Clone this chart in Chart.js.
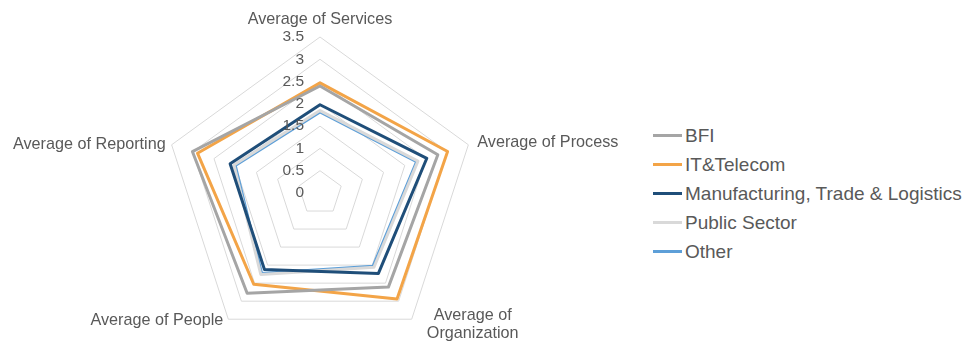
<!DOCTYPE html>
<html>
<head>
<meta charset="utf-8">
<script src="https://cdn.jsdelivr.net/npm/chart.js@4.4.1/dist/chart.umd.min.js"></script>
<style>
  html, body { margin: 0; padding: 0; background: #fff; }
  #wrap { position: relative; width: 966px; height: 342px; overflow: hidden; font-family: "Liberation Sans", Arial, sans-serif; }
  #radar { position: absolute; left: 0; top: 0; }
  #legend { position: absolute; left: 653px; top: 121px; color: #595959; font-size: 19px; }
  #legend .item { display: flex; align-items: center; height: 29px; white-space: nowrap; }
  #legend .swatch { width: 29px; height: 3px; margin-right: 3px; }
</style>
</head>
<body>
<div id="wrap">
  <canvas id="radar" width="640" height="400"></canvas>
  <div id="legend"></div>
</div>
<script>
const categories = ['Average of Services', 'Average of Process', 'Average of Organization', 'Average of People', 'Average of Reporting'];
const tickValues = [0, 0.5, 1, 1.5, 2, 2.5, 3, 3.5];

const seriesNames = ['BFI', 'IT&Telecom', 'Manufacturing, Trade & Logistics', 'Public Sector', 'Other'];
const bfi = [2.40, 2.78, 2.61, 2.78, 3.01];
const itTelecom = [2.47, 3.01, 2.94, 2.53, 2.89];
const manufacturing = [1.98, 2.52, 2.23, 2.12, 2.12];
const publicSector = [1.85, 2.31, 2.06, 2.26, 2.03];
const other = [1.82, 2.28, 2.03, 2.23, 2.00];
const seriesColors = ['#a5a5a5', '#f3a447', '#1f4e79', '#d9d9d9', '#5d9fd8'];

const textColor = '#595959';
const fontFamily = '"Liberation Sans", Arial, sans-serif';

// labels drawn next to the scale's own points, Excel style
const labelPlugin = {
  id: 'excelLabels',
  afterDraw(chart) {
    const scale = chart.scales.r;
    const ctx = chart.ctx;
    ctx.save();
    ctx.fillStyle = textColor;
    ctx.font = '15.5px ' + fontFamily;

    // tick labels left of the vertical axis
    ctx.textAlign = 'right';
    ctx.textBaseline = 'middle';
    tickValues.forEach(v => {
      const y = scale.yCenter - scale.getDistanceFromCenterForValue(v);
      ctx.fillText(String(v), scale.xCenter - 16, y);
    });

    // category labels
    ctx.font = '16.2px ' + fontFamily;
    const r = scale.drawingArea;
    const p0 = scale.getPointPosition(0, r);
    ctx.textAlign = 'center';
    ctx.fillText(categories[0], p0.x, p0.y - 17);

    const p1 = scale.getPointPosition(1, r);
    ctx.textAlign = 'left';
    ctx.fillText(categories[1], p1.x + 9, p1.y - 2);

    const p2 = scale.getPointPosition(2, r);
    ctx.textAlign = 'center';
    ctx.fillText('Average of', p2.x + 61, p2.y - 4);
    ctx.fillText('Organization', p2.x + 61, p2.y + 14);

    const p3 = scale.getPointPosition(3, r);
    ctx.textAlign = 'right';
    ctx.fillText(categories[3], p3.x - 5, p3.y + 1);

    const p4 = scale.getPointPosition(4, r);
    ctx.textAlign = 'right';
    ctx.fillText(categories[4], p4.x - 6, p4.y);
    ctx.restore();
  }
};

const allSeries = [bfi, itTelecom, manufacturing, publicSector, other];

new Chart(document.getElementById('radar'), {
  type: 'radar',
  data: {
    labels: categories,
    datasets: allSeries.map((values, i) => ({
      label: seriesNames[i],
      data: values,
      borderColor: seriesColors[i],
      backgroundColor: 'transparent',
      borderWidth: 3,
      borderJoinStyle: 'round',
      pointRadius: 0,
      fill: false
    }))
  },
  options: {
    responsive: false,
    animation: false,
    layout: { padding: { left: 0, right: 0, top: 37, bottom: 50 } },
    plugins: { legend: { display: false }, tooltip: { enabled: false } },
    scales: {
      r: {
        min: 0,
        max: 3.5,
        ticks: { stepSize: 0.5, display: false },
        grid: { color: '#d9d9d9', lineWidth: 1 },
        angleLines: { display: false },
        pointLabels: { display: false }
      }
    }
  },
  plugins: [labelPlugin]
});

const legend = document.getElementById('legend');
seriesNames.forEach((name, i) => {
  const item = document.createElement('div');
  item.className = 'item';
  const sw = document.createElement('span');
  sw.className = 'swatch';
  sw.style.background = seriesColors[i];
  const txt = document.createElement('span');
  txt.textContent = name;
  item.appendChild(sw);
  item.appendChild(txt);
  legend.appendChild(item);
});
</script>
</body>
</html>
